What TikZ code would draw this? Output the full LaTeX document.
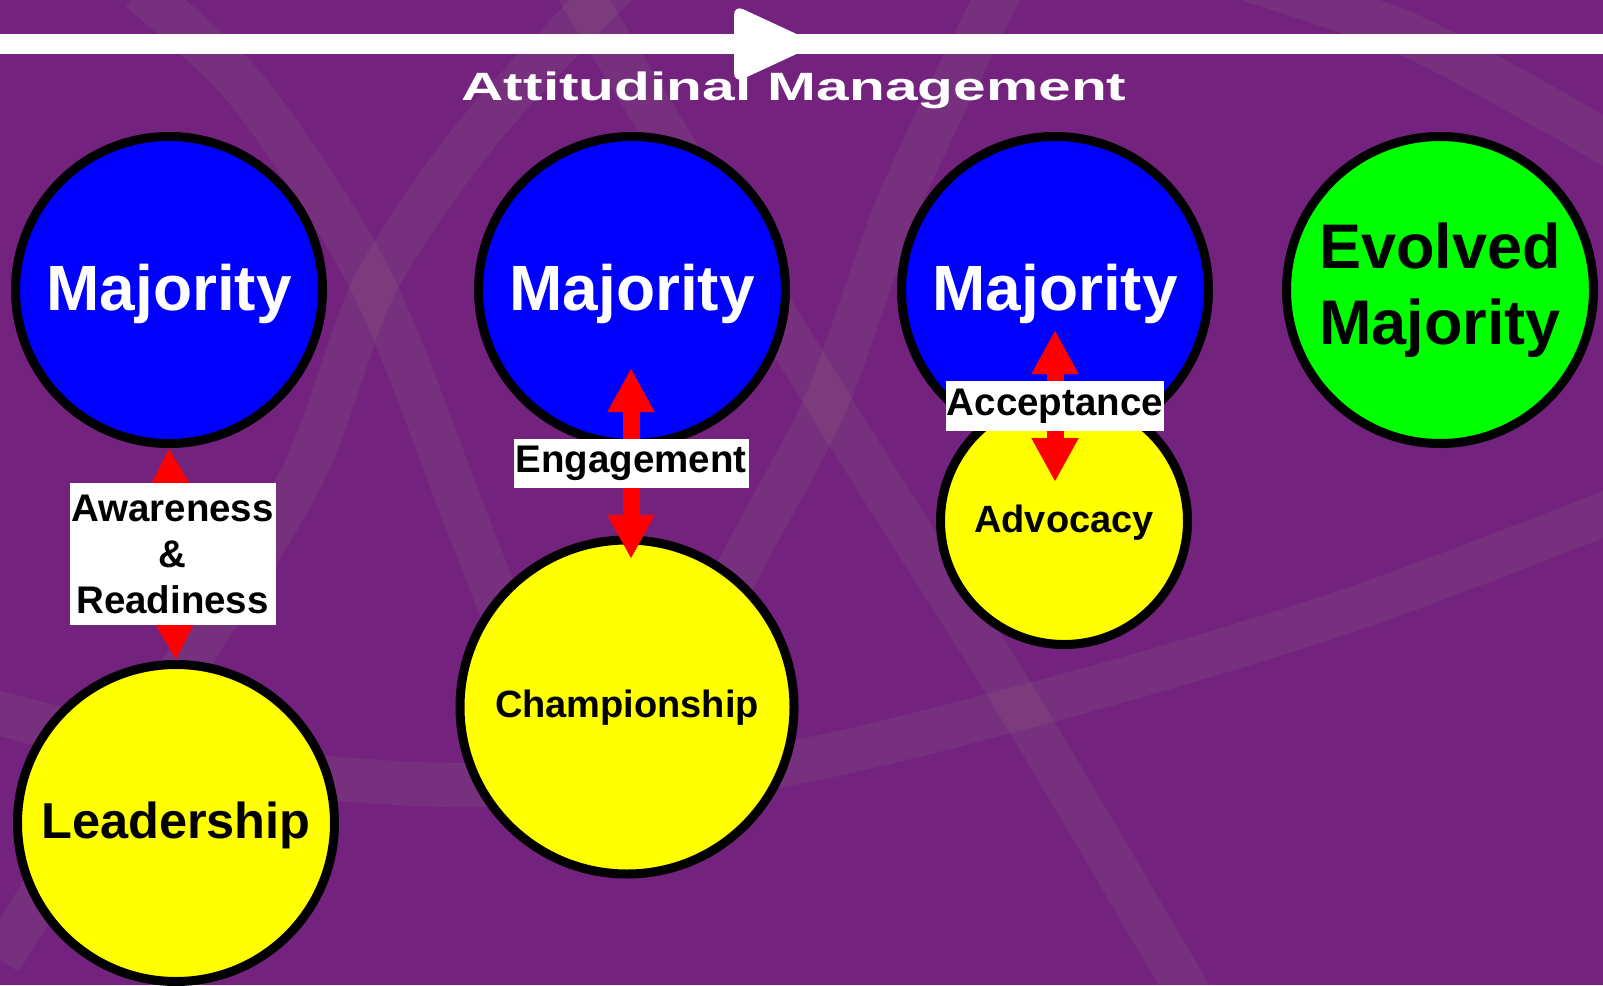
\documentclass[tikz,border=0pt]{standalone}
\usepackage{fontspec}
\usepackage{graphicx}
\setmainfont{Liberation Sans}
\usetikzlibrary{arrows.meta,calc}
\definecolor{bgpurple}{RGB}{115,35,125}
\definecolor{bandcol}{RGB}{150,140,130}
\definecolor{mblue}{RGB}{0,0,255}
\definecolor{mgreen}{RGB}{0,255,0}
\definecolor{myellow}{RGB}{255,255,0}
\definecolor{mred}{RGB}{255,0,0}
\begin{document}
\begin{tikzpicture}[x=1pt,y=-1pt,
  band/.style={line width=44pt, draw=bandcol, draw opacity=0.13},
  bubble/.style={circle, draw=black, line width=9pt, inner sep=0pt},
  majority/.style={bubble, fill=mblue, text=white, minimum size=307pt,
    font=\bfseries\fontsize{64}{76}\selectfont, text height=40pt, text depth=0pt},
  evolved/.style={bubble, fill=mgreen, text=black, minimum size=307pt, align=center,
    font=\bfseries\fontsize{63}{76}\selectfont},
  yellowbub/.style={bubble, fill=myellow, text=black, text depth=0pt},
  lbox/.style={fill=white, text=black, inner sep=0pt, align=center,
    font=\bfseries\fontsize{38.5}{46}\selectfont},
  dbl/.style={draw=mred, line width=17pt,
    arrows={Triangle[length=44pt,width=44pt]-Triangle[length=44pt,width=44pt]}},
  titlefont/.style={text=white, inner sep=0pt, font=\bfseries\fontsize{39.5}{47}\selectfont}
]
\useasboundingbox (0,0) rectangle (1603,985);
\fill[bgpurple] (0,0) rectangle (1603,985);

% background bands
\begin{scope}
\clip (0,0) rectangle (1603,985);
\draw[band] plot[smooth] coordinates {(-30,705) (200,762) (450,785) (750,770) (1050,700) (1350,610) (1640,500)};
\draw[band] plot[smooth] coordinates {(560,-40) (827,400) (1020,707) (1210,1030)};
\draw[band] plot[smooth] coordinates {(1000,-10) (900,200) (827,400) (747,553) (660,720)};
\draw[band] plot[smooth] coordinates {(620,-20) (480,130) (375,285) (300,480) (150,720) (0,960)};
\draw[band] plot[smooth] coordinates {(140,-10) (250,94) (372,283) (470,530) (560,760)};
\draw[band] plot[smooth] coordinates {(1250,-20) (1420,40) (1620,150)};
\end{scope}

% top timeline arrow
\coordinate (tl0) at (0,44);
\coordinate (tl1) at (1603,44);
\draw[white, line width=20pt] (tl0) -- (tl1);
\node[titlefont, anchor=base] (title) at (794,100) {\scalebox{1.485}[1]{Attitudinal Management}};
\fill[white, rounded corners=10pt] (734,5) -- (818,44) -- (734,83) -- cycle;

% circles
\node[majority] (m1) at (169,290) {Majority};
\node[majority] (m2) at (632,290) {Majority};
\node[majority] (m3) at (1055,290) {Majority};
\node[evolved] (evm) at (1440,290) {Evolved\\Majority};
\node[yellowbub, minimum size=317pt, text height=30.6pt, font=\bfseries\fontsize{50.5}{60}\selectfont] (lead) at (176,823) {Leadership};
\node[yellowbub, minimum size=334pt, text height=20.6pt, font=\bfseries\fontsize{38}{46}\selectfont] (champ) at (627,707) {Championship};
\node[yellowbub, minimum size=247pt, text height=22.6pt, font=\bfseries\fontsize{38}{46}\selectfont] (adv) at (1064,521) {Advocacy};

% connectors
\draw[dbl] (m1.south) -- node[lbox, minimum width=206pt, minimum height=141.7pt] (aware) {Awareness\\\&\\Readiness} (lead.north);
\draw[dbl] ($(m2.center)+(-1,78)$) -- node[lbox, minimum width=235pt, minimum height=49.7pt] (engage) {Engagement} ($(champ.center)+(4,-148)$);
\draw[dbl] ($(m3.center)+(0,40)$) -- node[lbox, minimum width=218pt, minimum height=49.7pt] (accept) {Acceptance} ($(adv.center)+(-9,-39)$);
\end{tikzpicture}
\end{document}
